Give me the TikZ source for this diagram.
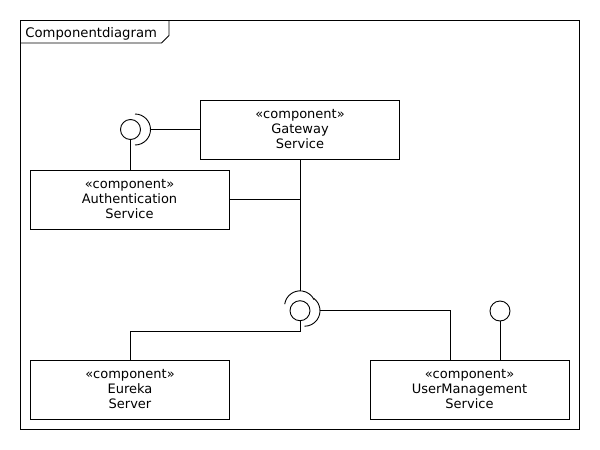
\documentclass[tikz,border=0pt]{standalone}
\usepackage{fontspec}
\setmainfont{DejaVu Sans}
\begin{document}
\begin{tikzpicture}[x=1pt,y=-1pt,line width=0.9pt,
    comp/.style={draw, minimum width=199pt, minimum height=59pt, inner sep=0pt,
      align=center, font=\fontsize{13}{15}\selectfont},
    ball/.style={draw, circle, minimum size=20pt, inner sep=0pt}]
  \useasboundingbox (0,0) rectangle (600,450);
  % frame
  \draw (20,20) rectangle (579,429);
  \draw (20,43) -- (161.5,43) -- (169,35.5) -- (169,20);
  \node[anchor=base west, inner sep=0pt, font=\fontsize{13.2}{15}\selectfont] (title) at (25,37) {Componentdiagram};
  % components
  \node[comp] (gateway) at (300,129.5) {«component»\\Gateway\\Service};
  \node[comp] (auth) at (129.5,199.5) {«component»\\Authentication\\Service};
  \node[comp] (eureka) at (130,389.5) {«component»\\Eureka\\Server};
  \node[comp] (um) at (469.5,389.5) {«component»\\UserManagement\\Service};
  % interfaces
  \node[ball] (authball) at (130.5,129.5) {};
  \draw (135,114) arc (-90:90:15.5);
  \coordinate (authsock) at (150.5,129.5);
  \node[ball] (hubball) at (300,310.7) {};
  \draw (284.7,304.2) arc (-172:-26:15.5);
  \coordinate (hubsockt) at (300,290.7);
  \draw (313.6,298.2) arc (-54:90:15.5);
  \coordinate (hubsockr) at (320,310.7);
  \node[ball] (umball) at (500,311) {};
  % connectors
  \draw (authsock) -- (gateway.west);
  \draw (authball.south) -- (authball.south |- auth.north);
  \draw (gateway.south) -- (hubsockt);
  \draw (auth.east) -- (auth.east -| gateway.south);
  \draw (hubball.south) -- ++(0,10) -| (eureka.north);
  \draw (hubsockr) -| ([xshift=-19.5pt]um.north);
  \draw (umball.south) -- (umball.south |- um.north);
\end{tikzpicture}
\end{document}
